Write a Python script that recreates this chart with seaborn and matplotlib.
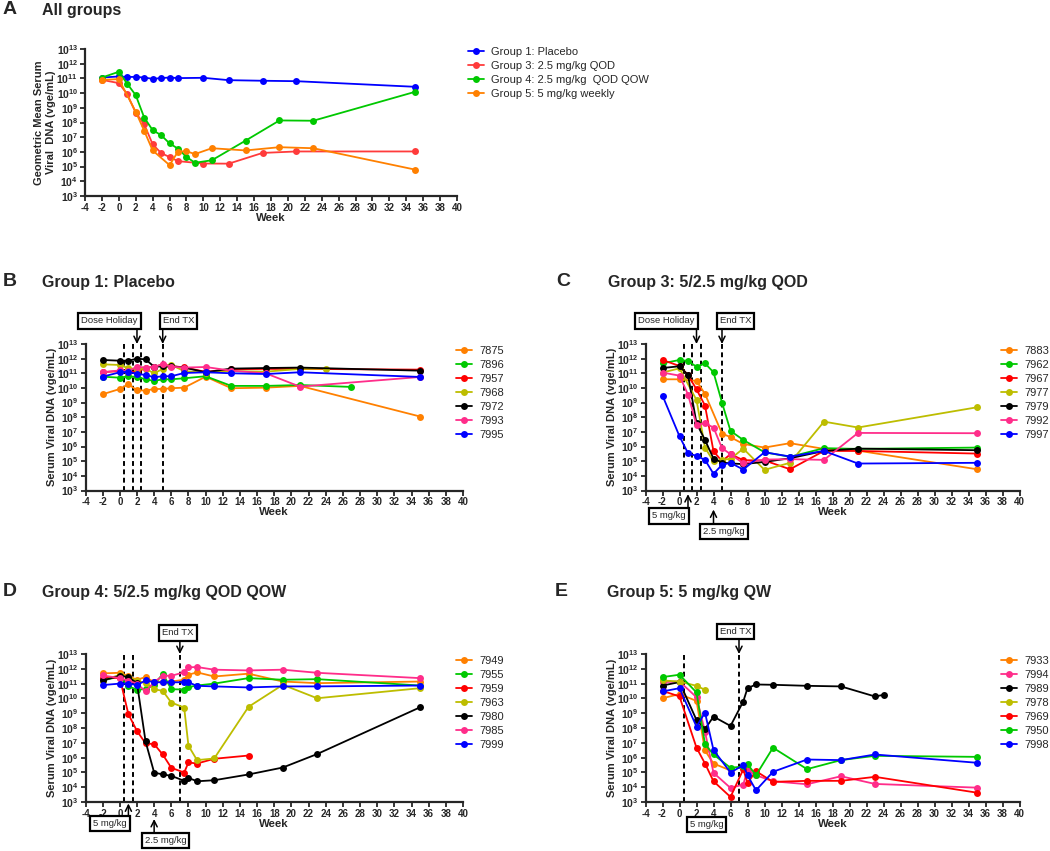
import numpy as np
import matplotlib
matplotlib.use("Agg")
import matplotlib.pyplot as plt
import matplotlib.transforms as mtransforms
import seaborn as sns

sns.set_style("ticks")
plt.rcParams['font.family'] = ['Liberation Sans', 'DejaVu Sans']
plt.rcParams['mathtext.fontset'] = 'custom'
plt.rcParams['mathtext.rm'] = 'Liberation Sans:bold'
plt.rcParams['mathtext.it'] = 'Liberation Sans:bold'
plt.rcParams['mathtext.bf'] = 'Liberation Sans:bold'

# colours
ORANGE = "#FF8000"
GREEN = "#00C800"
RED = "#FF0000"
YELLOW = "#BDBD00"
BLACK = "#000000"
PINK = "#FF2D8A"
BLUE = "#0000FF"

# ---- data (log10 of vge/mL) ----
# A: all groups, geometric mean
a_labels = ["Group 1: Placebo", "Group 3: 2.5 mg/kg QOD",
            "Group 4: 2.5 mg/kg  QOD QOW", "Group 5: 5 mg/kg weekly"]
a_wk_g1 = [-2, 0, 1, 2, 3, 4, 5, 6, 7, 10, 13, 17, 21, 35]
a_g1 = [11.06, 11.13, 11.10, 11.10, 11.06, 10.97, 11.02, 11.06, 11.02, 11.04, 10.88, 10.84, 10.81, 10.43]
a_wk_g3 = [-2, 0, 1, 2, 3, 4, 5, 6, 7, 10, 13, 17, 21, 35]
a_g3 = [10.90, 10.68, 9.92, 8.66, 7.88, 6.52, 5.92, 5.65, 5.37, 5.21, 5.20, 5.93, 6.03, 6.03]
a_wk_g4 = [-2, 0, 1, 2, 3, 4, 5, 6, 7, 8, 9, 11, 15, 19, 23, 35]
a_g4 = [11.06, 11.45, 10.63, 9.86, 8.34, 7.48, 7.14, 6.58, 6.22, 5.66, 5.26, 5.43, 6.77, 8.14, 8.12, 10.08]
a_wk_g5 = [-2, 0, 2, 3, 4, 6, 7, 8, 9, 11, 15, 19, 23, 35]
a_g5 = [10.90, 10.95, 8.73, 7.44, 6.10, 5.10, 6.02, 6.05, 5.85, 6.25, 6.10, 6.32, 6.25, 4.80]

# B: Group 1 placebo
b_wk = [-2, 0, 1, 2, 3, 4, 5, 6, 7.5, 10, 13, 17, 21, 35]
b_wk_7896 = [-2, 0, 1, 2, 3, 4, 5, 6, 7.5, 10, 13, 17, 21, 27]
b_wk_7968 = [-2, 0, 1, 2, 3, 4, 5, 6, 7.5, 10, 13, 17, 21, 24]
b_7875 = [9.57, 9.93, 10.25, 9.84, 9.82, 9.93, 9.93, 9.98, 10.02, 10.77, 9.98, 10.02, 10.14, 8.05]
b_7896 = [10.77, 10.70, 10.80, 10.75, 10.59, 10.48, 10.59, 10.59, 10.66, 10.80, 10.14, 10.14, 10.20, 10.07]
b_7957 = [11.08, 11.15, 11.10, 11.11, 11.35, 11.45, 11.60, 11.50, 11.40, 11.10, 11.28, 11.30, 11.30, 11.25]
b_7968 = [11.61, 11.57, 11.34, 11.30, 11.30, 11.00, 11.30, 11.57, 11.15, 11.05, 11.15, 11.11, 11.30, 11.32]
b_7972 = [11.91, 11.86, 11.86, 12.00, 11.95, 11.45, 11.47, 11.48, 11.39, 11.07, 11.32, 11.36, 11.39, 11.18]
b_7993 = [11.07, 11.20, 11.15, 11.45, 11.39, 11.45, 11.61, 11.45, 11.39, 11.43, 11.18, 11.00, 10.09, 10.75]
b_7995 = [10.77, 11.07, 11.11, 10.95, 10.89, 10.73, 10.80, 10.80, 11.02, 11.07, 11.00, 10.95, 11.07, 10.75]

# C: Group 3
c_wk = [-2, 0, 1, 2, 3, 4, 5, 6, 7.5, 10, 13, 17, 21, 35]
c_wk_7883 = [-2, 0, 2, 3, 5, 6, 7.5, 10, 13, 17, 21, 35]
c_wk_7977 = [-2, 0, 2, 3, 4, 5, 6, 7.5, 10, 13, 17, 21, 35]
c_7883 = [10.59, 10.59, 10.48, 9.59, 6.89, 6.64, 6.18, 5.93, 6.23, 5.84, 5.72, 4.45]
c_7962 = [11.68, 11.91, 11.84, 11.45, 11.68, 11.07, 9.00, 7.07, 6.45, 5.61, 5.30, 5.89, 5.84, 5.93]
c_7967 = [11.91, 11.50, 10.89, 9.90, 8.80, 5.68, 5.00, 5.48, 5.07, 5.05, 4.45, 5.70, 5.70, 5.52]
c_7977 = [11.05, 11.34, 9.18, 5.93, 4.98, 5.10, 5.16, 5.86, 4.41, 4.89, 7.70, 7.30, 8.68]
c_7979 = [11.36, 11.48, 10.89, 7.59, 6.45, 5.18, 4.91, 4.85, 4.80, 4.95, 5.20, 5.70, 5.86, 5.75]
c_7992 = [11.05, 10.84, 9.55, 7.48, 7.59, 7.30, 5.89, 5.48, 4.86, 5.11, 5.14, 5.09, 6.93, 6.91]
c_7997 = [9.48, 6.70, 5.55, 5.36, 5.09, 4.14, 4.75, 4.89, 4.43, 5.61, 5.32, 5.70, 4.84, 4.89]

# D: Group 4
d_wk = [-2, 0, 1, 2, 3, 4, 5, 6, 7.5, 8, 9, 11, 15, 19, 23, 35]
d_wk_7959 = [-2, 0, 1, 2, 3, 4, 5, 6, 7.5, 8, 9, 11, 15]
d_7949 = [11.69, 11.73, 11.50, 11.26, 11.44, 11.10, 11.14, 11.14, 11.26, 11.60, 11.76, 11.48, 11.67, 11.14, 11.03, 11.14]
d_7955 = [11.21, 11.48, 10.81, 10.60, 10.62, 10.90, 11.67, 10.62, 10.60, 10.76, 10.87, 11.00, 11.37, 11.26, 11.30, 10.87]
d_7959 = [11.40, 11.37, 8.93, 7.80, 6.96, 6.91, 6.21, 5.31, 4.99, 5.67, 5.60, 5.92, 6.14]
d_7963 = [11.19, 11.60, 11.45, 11.20, 11.03, 10.62, 10.51, 9.72, 9.38, 6.80, 5.83, 5.94, 9.43, 10.92, 10.01, 10.69]
d_7980 = [11.21, 11.53, 11.44, 11.03, 7.09, 4.99, 4.86, 4.77, 4.43, 4.63, 4.40, 4.47, 4.86, 5.33, 6.24, 9.40]
d_7985 = [11.55, 11.37, 11.20, 11.00, 10.47, 11.10, 11.53, 11.53, 11.76, 12.10, 12.12, 11.94, 11.89, 11.94, 11.73, 11.37]
d_7999 = [10.90, 11.00, 11.00, 10.90, 11.21, 11.10, 11.08, 11.08, 11.10, 11.08, 10.85, 10.81, 10.74, 10.81, 10.81, 10.87]

# E: Group 5
e_wk = [-2, 0, 2, 3, 4, 6, 7.5, 8, 9, 11, 15, 19, 23, 35]
e_wk_7933 = [-2, 0, 2, 3, 4, 6]
e_wk_7989 = [-2, 0, 2, 3, 4, 6, 7.5, 8, 9, 11, 15, 19, 23, 24]
e_wk_7978 = [-2, 0, 2, 3]
e_7933 = [10.01, 10.29, 9.83, 6.48, 5.60, 5.13]
e_7994 = [11.10, 11.14, 10.08, 7.75, 4.97, 3.95, 4.18, 5.15, 4.81, 4.40, 4.20, 4.74, 4.22, 3.97]
e_7989 = [10.87, 11.10, 8.54, 7.93, 8.77, 8.14, 9.79, 10.69, 10.94, 10.92, 10.85, 10.81, 10.13, 10.24]
e_7978 = [11.21, 11.14, 10.85, 10.58]
e_7969 = [10.51, 10.13, 6.67, 5.60, 4.40, 3.34, 5.20, 4.29, 5.08, 4.36, 4.43, 4.43, 4.70, 3.63]
e_7950 = [11.44, 11.60, 10.40, 6.91, 6.21, 5.31, 5.40, 5.56, 4.81, 6.67, 5.22, 5.83, 6.12, 6.05]
e_7998 = [10.47, 10.69, 8.09, 9.04, 6.51, 4.99, 5.49, 4.81, 3.79, 5.04, 5.87, 5.83, 6.21, 5.65]

W, H = 1050, 851
fig = plt.figure(figsize=(W / 100, H / 100), dpi=100)


def px_axes(left, right, top, bottom):
    return fig.add_axes([left / W, 1 - bottom / H, (right - left) / W, (bottom - top) / H])


def draw(ax, series, leg_x, leg_top, ylabel_x, ylabel="Serum Viral DNA (vge/mL)"):
    for name, wk, vals, col in series:
        sns.lineplot(x=wk, y=10 ** np.array(vals), ax=ax, color=col, marker="o",
                     markersize=5, markeredgewidth=0, linewidth=1.3, label=name,
                     estimator=None, sort=False)
    ax.set_yscale("log")
    ax.set_ylim(1e3, 1e13)
    ax.set_xlim(-4, 40)
    ax.set_xticks(range(-4, 41, 2))
    ax.set_xticklabels([str(v) for v in range(-4, 41, 2)], fontweight="bold", fontsize=7)
    ax.set_yticks([10.0 ** k for k in range(3, 14)])
    ax.set_yticklabels([rf"$10^{{{k}}}$" for k in range(3, 14)], fontsize=7.5)
    ax.minorticks_off()
    sns.despine(ax=ax)
    for s in ["left", "bottom"]:
        ax.spines[s].set_linewidth(1.6)
    ax.tick_params(width=1.3, length=3.5, pad=1.5)
    ax.set_xlabel("Week", fontweight="bold", fontsize=8.2)
    ax.xaxis.set_label_coords(0.5, -0.115)
    ax.set_ylabel("")
    bb = ax.get_position()
    fig.text(ylabel_x / W, bb.y0 + bb.height / 2, ylabel, rotation=90, ha="center",
             va="center", fontsize=8, fontweight="bold", linespacing=1.35)
    ax.legend(loc="upper left", bbox_to_anchor=(leg_x / W, 1 - leg_top / H),
              bbox_transform=fig.transFigure, frameon=False, fontsize=8,
              handlelength=1.4, handletextpad=0.7, labelspacing=0.36,
              borderpad=0, borderaxespad=0)


def box(ax, text, x, y, arrow=None):
    tr = mtransforms.blended_transform_factory(ax.transData, ax.transAxes)
    ax.text(x, y, text, transform=tr, ha="center", va="center", fontsize=6.8,
            bbox=dict(boxstyle="square,pad=0.32", fc="white", ec="black", lw=1.6),
            clip_on=False, zorder=5)
    if arrow is not None:
        ax_x, y0, y1 = arrow
        ax.annotate("", xy=(ax_x, y1), xytext=(ax_x, y0), xycoords=tr, textcoords=tr,
                    arrowprops=dict(arrowstyle="->", color="black", lw=1.1,
                                    shrinkA=0, shrinkB=0, mutation_scale=11),
                    annotation_clip=False)


def vlines(ax, xs):
    for x in xs:
        ax.axvline(x, color="black", linestyle=(0, (2.5, 1.8)), linewidth=1.4, zorder=1)


def heading(letter, title, lx, tx, y):
    fig.text(lx / W, 1 - y / H, letter, fontsize=14, fontweight="bold", va="center")
    fig.text(tx / W, 1 - y / H, title, fontsize=11.5, fontweight="bold", va="center")


# A
axA = px_axes(85, 457, 49, 196)
draw(axA, [(a_labels[0], a_wk_g1, a_g1, BLUE),
           (a_labels[1], a_wk_g3, a_g3, "#FF3B3B"),
           (a_labels[2], a_wk_g4, a_g4, GREEN),
           (a_labels[3], a_wk_g5, a_g5, ORANGE)],
     468, 47, 45, "Geometric Mean Serum\nViral  DNA (vge/mL)")
heading("A", "All groups", 3, 42, 10)

# B
axB = px_axes(85.5, 463, 344, 490.5)
vlines(axB, [0.5, 1.5, 2.5, 5])
draw(axB, [("7875", b_wk, b_7875, ORANGE), ("7896", b_wk_7896, b_7896, GREEN),
           ("7957", b_wk, b_7957, RED), ("7968", b_wk_7968, b_7968, YELLOW),
           ("7972", b_wk, b_7972, BLACK), ("7993", b_wk, b_7993, PINK),
           ("7995", b_wk, b_7995, BLUE)],
     456, 346, 52)
box(axB, "Dose Holiday", -1.2, 1.157, (2, 1.10, 1.0))
box(axB, "End TX", 6.84, 1.157, (5, 1.10, 1.0))
heading("B", "Group 1: Placebo", 3, 42, 282)

# C
axC = px_axes(645.5, 1019.5, 344, 490.5)
vlines(axC, [0.5, 1.5, 2.5, 5])
draw(axC, [("7883", c_wk_7883, c_7883, ORANGE), ("7962", c_wk, c_7962, GREEN),
           ("7967", c_wk, c_7967, RED), ("7977", c_wk_7977, c_7977, YELLOW),
           ("7979", c_wk, c_7979, BLACK), ("7992", c_wk, c_7992, PINK),
           ("7997", c_wk, c_7997, BLUE)],
     1001, 346, 612)
box(axC, "Dose Holiday", -1.53, 1.157, (2, 1.10, 1.0))
box(axC, "End TX", 6.59, 1.157, (5, 1.10, 1.0))
box(axC, "5 mg/kg", -1.24, -0.174, (1, -0.12, -0.025))
box(axC, "2.5 mg/kg", 5.24, -0.283, (4, -0.235, -0.13))
heading("C", "Group 3: 5/2.5 mg/kg QOD", 556, 608, 282)

# D
axD = px_axes(85.5, 463, 654, 802)
vlines(axD, [0.5, 1.5, 7])
draw(axD, [("7949", d_wk, d_7949, ORANGE), ("7955", d_wk, d_7955, GREEN),
           ("7959", d_wk_7959, d_7959, RED), ("7963", d_wk, d_7963, YELLOW),
           ("7980", d_wk, d_7980, BLACK), ("7985", d_wk, d_7985, PINK),
           ("7999", d_wk, d_7999, BLUE)],
     456, 656, 52)
box(axD, "End TX", 6.78, 1.142, (7, 1.10, 1.0))
box(axD, "5 mg/kg", -1.14, -0.145, (1, -0.09, -0.01))
box(axD, "2.5 mg/kg", 5.32, -0.26, (4, -0.21, -0.115))
heading("D", "Group 4: 5/2.5 mg/kg QOD QOW", 3, 42, 592)

# E
axE = px_axes(645.5, 1019.5, 654, 802)
vlines(axE, [0.5, 7])
draw(axE, [("7933", e_wk_7933, e_7933, ORANGE), ("7994", e_wk, e_7994, PINK),
           ("7989", e_wk_7989, e_7989, BLACK), ("7978", e_wk_7978, e_7978, YELLOW),
           ("7969", e_wk, e_7969, RED), ("7950", e_wk, e_7950, GREEN),
           ("7998", e_wk, e_7998, BLUE)],
     1001, 656, 612)
box(axE, "End TX", 6.59, 1.149, (7, 1.10, 1.0))
box(axE, "5 mg/kg", 3.18, -0.155)
heading("E", "Group 5: 5 mg/kg QW", 555, 607, 592)

fig.savefig("out.png", dpi=100)
